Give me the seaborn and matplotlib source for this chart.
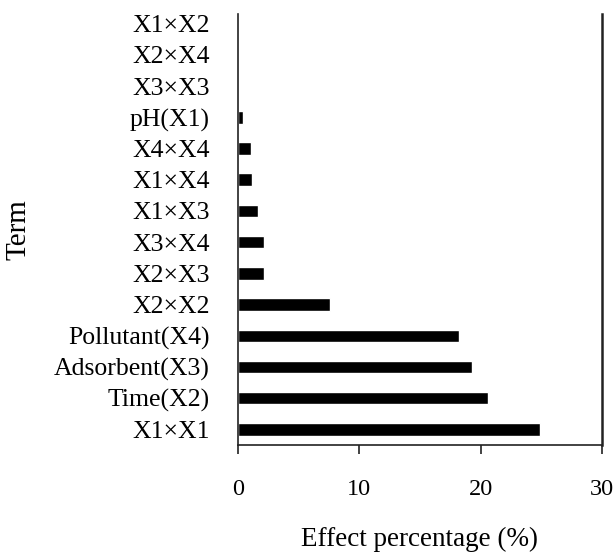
import matplotlib
matplotlib.use("Agg")
import matplotlib.pyplot as plt
import seaborn as sns
import pandas as pd

terms = ["X1×X2", "X2×X4", "X3×X3", "pH(X1)", "X4×X4", "X1×X4", "X1×X3",
         "X3×X4", "X2×X3", "X2×X2", "Pollutant(X4)", "Adsorbent(X3)",
         "Time(X2)", "X1×X1"]
effects = [0.0, 0.0, 0.0, 0.4, 1.07, 1.2, 1.65, 2.2, 2.2, 7.6, 18.2, 19.3, 20.6, 24.9]
xticks = [0, 10, 20, 30]

sns.set_style("white")
plt.rcParams["font.family"] = ["Liberation Serif", "DejaVu Serif"]
plt.rcParams["text.color"] = "black"
plt.rcParams["axes.labelcolor"] = "black"
plt.rcParams["xtick.color"] = "black"
plt.rcParams["ytick.color"] = "black"

df = pd.DataFrame({"Term": terms, "Effect": effects})

fig = plt.figure(figsize=(6.16, 5.53), dpi=100)
W, H = 616, 553
left, right, top, bottom = 237.7, 602, 14, 445
ax = fig.add_axes([left / W, 1 - bottom / H, (right - left) / W, (bottom - top) / H])

sns.barplot(data=df, x="Effect", y="Term", color="black", saturation=1,
            width=0.4, ax=ax, orient="h")

ax.set_xlim(0, 30)
ax.set_ylim(13.5, -0.31)
ax.set_xticks(xticks)
ax.set_xticklabels([str(t) for t in xticks])

for s in ["left", "right", "bottom"]:
    ax.spines[s].set_visible(True)
    ax.spines[s].set_color("#222222")
    ax.spines[s].set_linewidth(1.2)
ax.spines["top"].set_visible(False)
ax.spines["right"].set_linewidth(1.8)

ax.tick_params(axis="x", direction="out", length=6.5, width=1.2, color="#222222",
               labelsize=17.5, pad=18, bottom=True)
ax.tick_params(axis="y", length=0, labelsize=18.5, pad=20)

ax.set_xlabel("Effect percentage (%)", fontsize=19.5, va="center")
ax.set_ylabel("Term", fontsize=21)
ax.xaxis.set_label_coords(0.5, -0.218)
ax.yaxis.set_label_coords(-0.565, 0.5)

fig.savefig("out.png", dpi=100)
